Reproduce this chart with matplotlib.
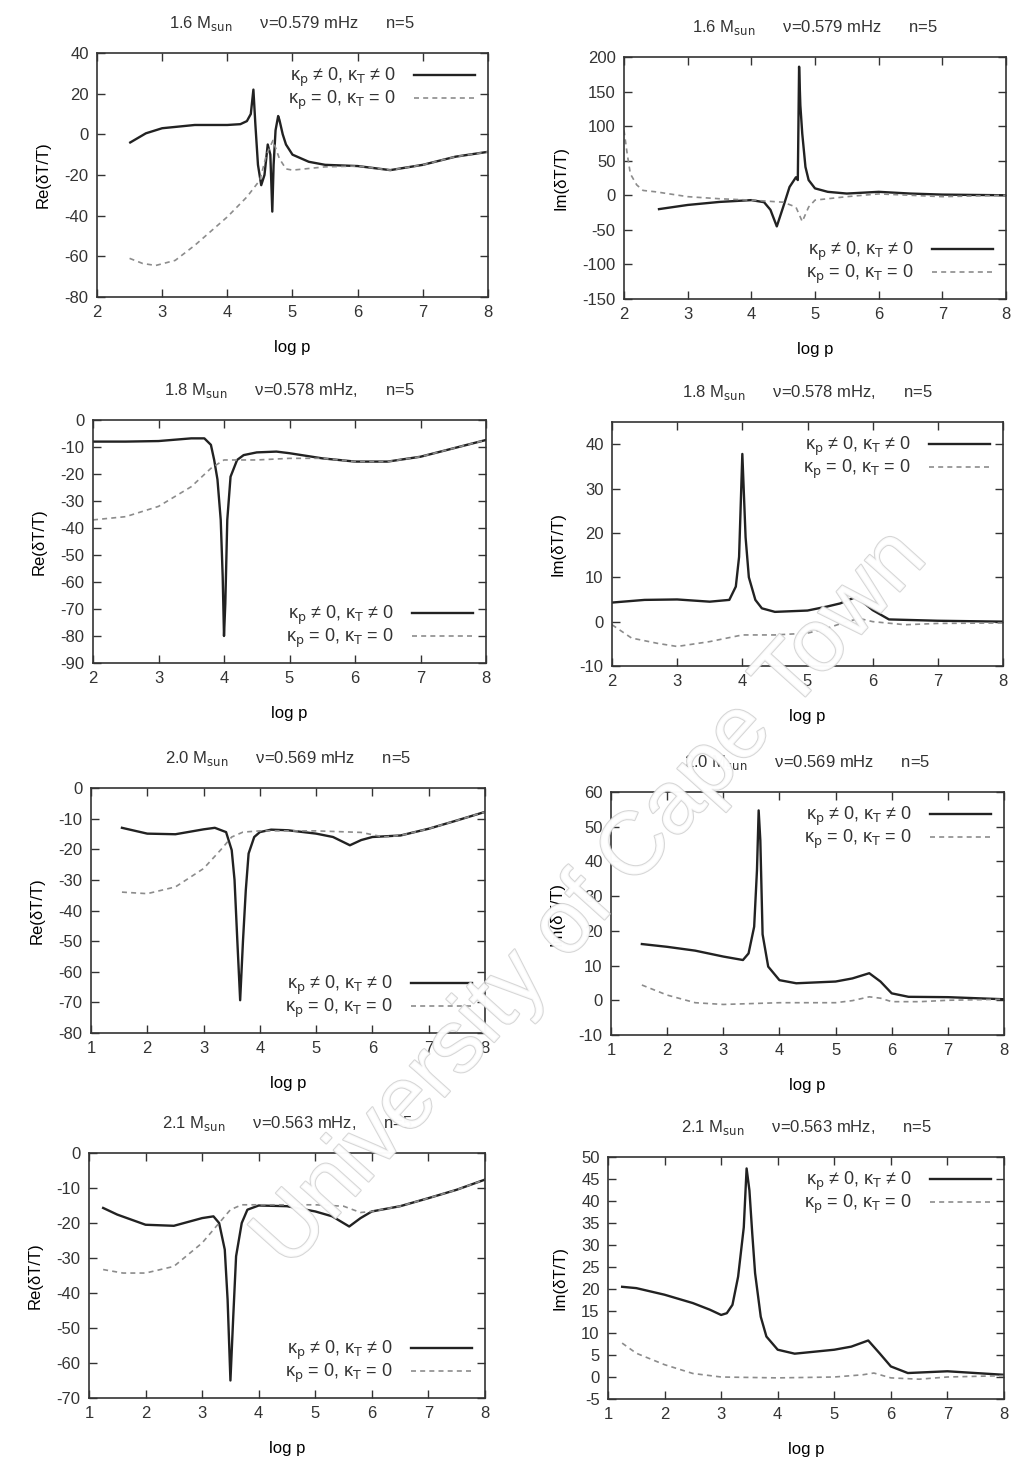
import matplotlib
matplotlib.use('agg')
import matplotlib.pyplot as plt
import matplotlib.patheffects as pe

plt.rcParams['font.family'] = ['Liberation Sans', 'DejaVu Sans']
plt.rcParams['font.size'] = 12
plt.rcParams['axes.unicode_minus'] = False
plt.rcParams['text.color'] = '#333333'
plt.rcParams['axes.edgecolor'] = '#333333'
plt.rcParams['xtick.color'] = '#333333'
plt.rcParams['ytick.color'] = '#333333'

# ---- 1.6 Msun, Re
re16_xs = [2.51, 2.75, 3.0, 3.5, 4.0, 4.2, 4.3, 4.36, 4.4, 4.43, 4.47, 4.52, 4.57, 4.62,
           4.66, 4.69, 4.71, 4.74, 4.78, 4.8, 4.85, 4.9, 5.0, 5.25, 5.5, 6.0, 6.5, 7.0, 7.5, 8.0]
re16_ys = [-4, 0.5, 3, 4.6, 4.6, 5, 6.5, 10, 22, 5, -15, -25, -20, -5,
           -10, -38, -15, 2, 9, 7, 0, -5, -10, -13.5, -15, -15.6, -17.6, -15, -11, -8.6]
re16_xd = [2.5, 2.7, 2.9, 3.2, 3.5, 4.0, 4.3, 4.5, 4.6, 4.7, 4.8, 4.9, 5.0, 5.5, 6.0, 6.5, 7.0, 7.5, 8.0]
re16_yd = [-61, -63.5, -64.5, -62, -54.6, -40.6, -30.8, -22.5, -10, -3, -12, -17, -17.6, -16,
           -15.6, -17.6, -15, -11, -8.6]

# ---- 1.6 Msun, Im
im16_xs = [2.55, 3.0, 3.5, 4.0, 4.2, 4.3, 4.4, 4.5, 4.6, 4.7, 4.73, 4.75, 4.77, 4.8,
           4.85, 4.9, 5.0, 5.2, 5.5, 6.0, 6.5, 7.0, 8.0]
im16_ys = [-20, -14, -9.6, -7, -10, -21, -45, -17, 12, 26, 22, 186, 130, 89,
           41, 22, 10, 5, 2.5, 5, 2.5, 1, 0]
im16_xd = [2.0, 2.05, 2.1, 2.2, 2.3, 2.5, 3.0, 3.5, 4.0, 4.5, 4.7, 4.8, 4.9, 5.0, 5.5, 6.0, 7.0, 8.0]
im16_yd = [94, 60, 31, 15, 7, 5, -2, -5, -7, -10, -17, -38, -17, -7, -2, 2, -2, 0]

# ---- 1.8 Msun, Re
re18_xs = [2.0, 2.5, 3.0, 3.5, 3.7, 3.8, 3.85, 3.9, 3.95, 3.98, 4.0, 4.02, 4.05, 4.1,
           4.2, 4.3, 4.5, 4.8, 5.0, 5.5, 6.0, 6.5, 7.0, 7.5, 8.0]
re18_ys = [-8, -8, -7.8, -6.8, -6.8, -9.2, -14.8, -22, -37, -58, -80, -68, -37, -21,
           -14.8, -13, -12, -11.7, -12.3, -14.2, -15.4, -15.4, -13.6, -10.5, -7.4]
re18_xd = [2.0, 2.5, 3.0, 3.5, 3.8, 4.0, 4.5, 5.0, 5.5, 6.0, 6.5, 7.0, 7.5, 8.0]
re18_yd = [-37, -35.8, -32, -24.7, -17.9, -14.8, -14.8, -14.2, -14.2, -15.4, -15.4, -13.6, -10.5, -7.4]

# ---- 1.8 Msun, Im
im18_xs = [2.0, 2.5, 3.0, 3.5, 3.8, 3.9, 3.95, 4.0, 4.05, 4.1, 4.2, 4.3, 4.5, 5.0,
           5.3, 5.5, 5.75, 6.0, 6.25, 6.5, 7.0, 8.0]
im18_ys = [4.3, 4.9, 5.0, 4.5, 4.9, 7.9, 14.6, 37.8, 19, 10, 4.9, 3, 2.2, 2.5,
           3.4, 4.1, 5.6, 2.6, 0.5, 0.4, 0.2, 0]
im18_xd = [2.0, 2.3, 2.7, 3.0, 3.5, 4.0, 4.5, 5.0, 5.3, 5.6, 5.8, 6.0, 6.5, 7.0, 8.0]
im18_yd = [-0.7, -3.7, -4.9, -5.6, -4.5, -3, -3, -2.6, -1.5, 0, 0.7, 0, -0.7, -0.4, -0.3]

# ---- 2.0 Msun, Re
re20_xs = [1.55, 2.0, 2.5, 3.0, 3.2, 3.4, 3.5, 3.55, 3.6, 3.65, 3.7, 3.75, 3.8, 3.9,
           4.0, 4.2, 4.5, 5.0, 5.3, 5.6, 5.8, 6.0, 6.5, 7.0, 7.5, 8.0]
re20_ys = [-13, -14.9, -15.1, -13.5, -13, -14.4, -20.3, -30, -50, -69.3, -50, -33.4, -21.4, -16,
           -14.4, -13.6, -13.8, -14.9, -16, -18.7, -17, -16, -15.5, -13.3, -10.6, -7.8]
re20_xd = [1.55, 2.0, 2.5, 3.0, 3.3, 3.5, 3.7, 4.0, 5.0, 5.8, 6.2, 6.5, 7.0, 7.5, 8.0]
re20_yd = [-34, -34.5, -32.3, -26.3, -20.3, -16, -14.4, -14, -14, -14.5, -16, -15.5, -13.3, -10.6, -7.8]

# ---- 2.0 Msun, Im
im20_xs = [1.55, 2.0, 2.5, 3.0, 3.35, 3.45, 3.55, 3.6, 3.63, 3.66, 3.7, 3.8, 4.0, 4.3,
           5.0, 5.3, 5.6, 5.8, 6.0, 6.3, 7.0, 8.0]
im20_ys = [16.2, 15.4, 14.3, 12.6, 11.6, 13.5, 21.2, 37.5, 54.7, 46, 19, 9.7, 5.8, 4.9,
           5.4, 6.3, 7.8, 5.4, 2, 1, 0.9, 0.3]
im20_xd = [1.55, 2.0, 2.5, 3.0, 4.0, 5.0, 5.3, 5.6, 5.8, 6.0, 6.5, 7.0, 8.0]
im20_yd = [4.4, 1.5, -0.7, -1.2, -0.7, -0.7, -0.1, 1, 0.6, -0.4, -0.4, 0, 0.3]

# ---- 2.1 Msun, Re
re21_xs = [1.25, 1.5, 2.0, 2.5, 3.0, 3.2, 3.3, 3.4, 3.45, 3.5, 3.55, 3.6, 3.7, 3.8,
           4.0, 4.5, 5.0, 5.3, 5.6, 5.8, 6.0, 6.5, 7.0, 7.5, 8.0]
re21_ys = [-15.7, -17.6, -20.5, -20.8, -18.6, -18.1, -20, -27.6, -41.9, -65, -46.7, -29.5, -20, -16.2,
           -15, -15.2, -16.7, -18.1, -21, -18.6, -16.7, -15.2, -12.9, -10.5, -7.6]
re21_xd = [1.25, 1.6, 2.0, 2.5, 3.0, 3.3, 3.5, 3.7, 4.0, 5.0, 5.5, 5.8, 6.0, 6.5, 7.0, 7.5, 8.0]
re21_yd = [-33.3, -34.3, -34.3, -32.4, -25.7, -20, -16.2, -14.8, -14.8, -14.8, -15.2, -17, -16.7,
           -15.2, -12.9, -10.5, -7.6]

# ---- 2.1 Msun, Im
im21_xs = [1.25, 1.5, 2.0, 2.5, 2.8, 3.0, 3.1, 3.2, 3.3, 3.4, 3.45, 3.5, 3.55, 3.6,
           3.7, 3.8, 4.0, 4.3, 5.0, 5.3, 5.6, 5.8, 6.0, 6.3, 7.0, 7.5, 8.0]
im21_ys = [20.5, 20.2, 18.7, 16.8, 15.3, 14.1, 14.5, 16.4, 22.8, 34, 47.4, 42.4, 32.6, 23.6,
           13.7, 9.2, 6.2, 5.3, 6.2, 6.9, 8.3, 5.4, 2.4, 0.9, 1.3, 0.9, 0.5]
im21_xd = [1.25, 1.5, 2.0, 2.5, 3.0, 4.0, 5.0, 5.5, 5.7, 6.0, 6.5, 7.0, 8.0]
im21_yd = [7.7, 5.4, 2.8, 0.8, 0, -0.2, 0, 0.5, 0.9, -0.2, -0.5, 0, 0.3]

titles = [r'1.6 M$_{\rm sun}$      ν=0.579 mHz      n=5',
          r'1.8 M$_{\rm sun}$      ν=0.578 mHz,      n=5',
          r'2.0 M$_{\rm sun}$      ν=0.569 mHz      n=5',
          r'2.1 M$_{\rm sun}$      ν=0.563 mHz,      n=5']
lab_full = r'κ$_{\rm p}$ ≠ 0, κ$_{\rm T}$ ≠ 0'
lab_zero = r'κ$_{\rm p}$ = 0, κ$_{\rm T}$ = 0'

W, H = 1011, 1463
fig = plt.figure(figsize=(W / 100, H / 100), dpi=100)


def box(l, r, t, b):
    return [l / W, 1 - b / H, (r - l) / W, (b - t) / H]


panels = [
    # rect, xs, ys, xd, yd, xlim, ylim, yticks, ylabel, legend loc, title
    (box(97, 488, 53, 297), re16_xs, re16_ys, re16_xd, re16_yd, (2, 8), (-80, 40),
     range(-80, 41, 20), 'Re(δT/T)', 'upper right', titles[0]),
    (box(624, 1006, 57, 299), im16_xs, im16_ys, im16_xd, im16_yd, (2, 8), (-150, 200),
     range(-150, 201, 50), 'Im(δT/T)', 'lower right', titles[0]),
    (box(93, 486, 420, 663), re18_xs, re18_ys, re18_xd, re18_yd, (2, 8), (-90, 0),
     range(-90, 1, 10), 'Re(δT/T)', 'lower right', titles[1]),
    (box(612, 1003, 422, 666), im18_xs, im18_ys, im18_xd, im18_yd, (2, 8), (-10, 45),
     range(-10, 41, 10), 'Im(δT/T)', 'upper right', titles[1]),
    (box(91, 485, 788, 1033), re20_xs, re20_ys, re20_xd, re20_yd, (1, 8), (-80, 0),
     range(-80, 1, 10), 'Re(δT/T)', 'lower right', titles[2]),
    (box(611, 1004, 792, 1035), im20_xs, im20_ys, im20_xd, im20_yd, (1, 8), (-10, 60),
     range(-10, 61, 10), 'Im(δT/T)', 'upper right', titles[2]),
    (box(89, 485, 1153, 1398), re21_xs, re21_ys, re21_xd, re21_yd, (1, 8), (-70, 0),
     range(-70, 1, 10), 'Re(δT/T)', 'lower right', titles[3]),
    (box(608, 1004, 1157, 1399), im21_xs, im21_ys, im21_xd, im21_yd, (1, 8), (-5, 50),
     range(-5, 51, 5), 'Im(δT/T)', 'upper right', titles[3]),
]

for rect, xs, ys, xd, yd, xl, yl, yt, ylab, loc, ttl in panels:
    ax = fig.add_axes(rect)
    ax.plot(xs, ys, color='#222222', lw=1.7, label=lab_full)
    ax.plot(xd, yd, color='#8c8c8c', lw=1.2, ls=(0, (3, 2.5)), label=lab_zero)
    ax.set_xlim(xl)
    ax.set_ylim(yl)
    ax.set_xticks(range(xl[0], xl[1] + 1))
    ax.set_yticks(list(yt))
    ax.tick_params(direction='in', top=True, right=True, length=6, width=1, labelsize=12, pad=6)
    for s in ax.spines.values():
        s.set_linewidth(1.2)
    ax.set_xlabel('log p', fontsize=12, labelpad=14)
    ax.set_ylabel(ylab, fontsize=12, labelpad=10)
    ax.set_title(ttl, fontsize=12, pad=18)
    ax.legend(loc=loc, frameon=False, markerfirst=False, fontsize=13, handlelength=3.4,
              labelspacing=0.0, borderaxespad=0.3, handletextpad=1.0)

# watermark of the scanned thesis
fig.text(0.585, 0.385, 'University of Cape Town', fontsize=64, rotation=48,
         ha='center', va='center', color='white', alpha=0.85, zorder=10,
         path_effects=[pe.withStroke(linewidth=1.5, foreground='#cfcfcf')])

fig.savefig('out.png', dpi=100)
